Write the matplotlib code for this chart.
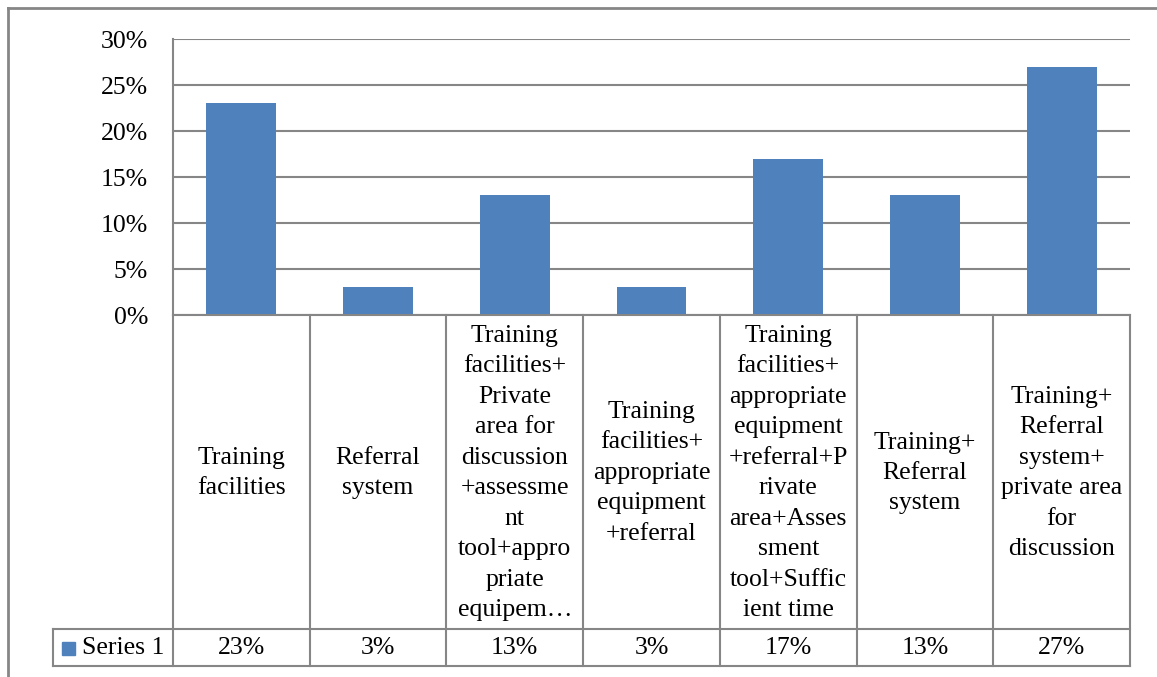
import matplotlib.pyplot as plt
from matplotlib.lines import Line2D
from matplotlib.patches import Rectangle

# data
categories = [
    "Training\nfacilities",
    "Referral\nsystem",
    "Training\nfacilities+\nPrivate\narea for\ndiscussion\n+assessme\nnt\ntool+appro\npriate\nequipem…",
    "Training\nfacilities+\nappropriate\nequipment\n+referral",
    "Training\nfacilities+\nappropriate\nequipment\n+referral+P\nrivate\narea+Asses\nsment\ntool+Suffic\nient time",
    "Training+\nReferral\nsystem",
    "Training+\nReferral\nsystem+\nprivate area\nfor\ndiscussion",
]
series_name = "Series 1"
values = [0.23, 0.03, 0.13, 0.03, 0.17, 0.13, 0.27]
yticks = [0, 0.05, 0.10, 0.15, 0.20, 0.25, 0.30]

W, H = 1157, 677
plt.rcParams['font.family'] = ['Liberation Serif', 'DejaVu Serif']
fig = plt.figure(figsize=(W / 100, H / 100), dpi=100)
FS = 18.5

def fx(x):
    return x / W

def fy(y):
    return 1 - y / H

grid_col = '#868686'
bar_col = '#4F81BD'

# plot area in pixels
L, R, T, B = 173, 1130, 39, 315
ax = fig.add_axes([fx(L), fy(B), fx(R) - fx(L), fy(T) - fy(B)])
n = len(values)
ax.bar(range(n), values, width=0.51, color=bar_col, zorder=3)
ax.set_xlim(-0.5, n - 0.5)
ax.set_ylim(0, 0.30)
ax.set_yticks(yticks)
ax.set_yticklabels([f"{int(round(t * 100))}%" for t in yticks], fontsize=FS)
ax.tick_params(axis='y', length=0, pad=18)
ax.set_xticks([])
ax.yaxis.grid(True, color=grid_col, linewidth=1.5, zorder=0)
for s in ['top', 'right', 'bottom']:
    ax.spines[s].set_visible(False)
ax.spines['left'].set_color(grid_col)
ax.spines['left'].set_linewidth(1.5)

def hline(x0, x1, y, lw=1.5):
    fig.add_artist(Line2D([fx(x0), fx(x1)], [fy(y), fy(y)], color=grid_col, lw=lw))

def vline(x, y0, y1, lw=1.5):
    fig.add_artist(Line2D([fx(x), fx(x)], [fy(y0), fy(y1)], color=grid_col, lw=lw))

# data table
row_top, row_mid, row_bot = 315, 629, 666
col_w = (R - L) / n
hline(L, R, row_top)
hline(53, R, row_mid)
hline(53, R, row_bot)
vline(53, row_mid, row_bot)
for i in range(n + 1):
    vline(L + i * col_w, row_top, row_bot)

for i, (lab, v) in enumerate(zip(categories, values)):
    cx = L + (i + 0.5) * col_w
    fig.text(fx(cx), fy((row_top + row_mid) / 2 + 1), lab, ha='center', va='center',
             fontsize=FS, linespacing=1.5)
    fig.text(fx(cx), fy((row_mid + row_bot) / 2), f"{int(round(v * 100))}%",
             ha='center', va='center', fontsize=FS)

fig.add_artist(Rectangle((fx(62), fy(655)), fx(13), fy(642) - fy(655), color=bar_col))
fig.text(fx(82), fy((row_mid + row_bot) / 2), series_name, ha='left', va='center', fontsize=FS)

# chart border
hline(8, W, 8, lw=2)
vline(8, 8, H, lw=2)

fig.savefig('out.png', dpi=100)
